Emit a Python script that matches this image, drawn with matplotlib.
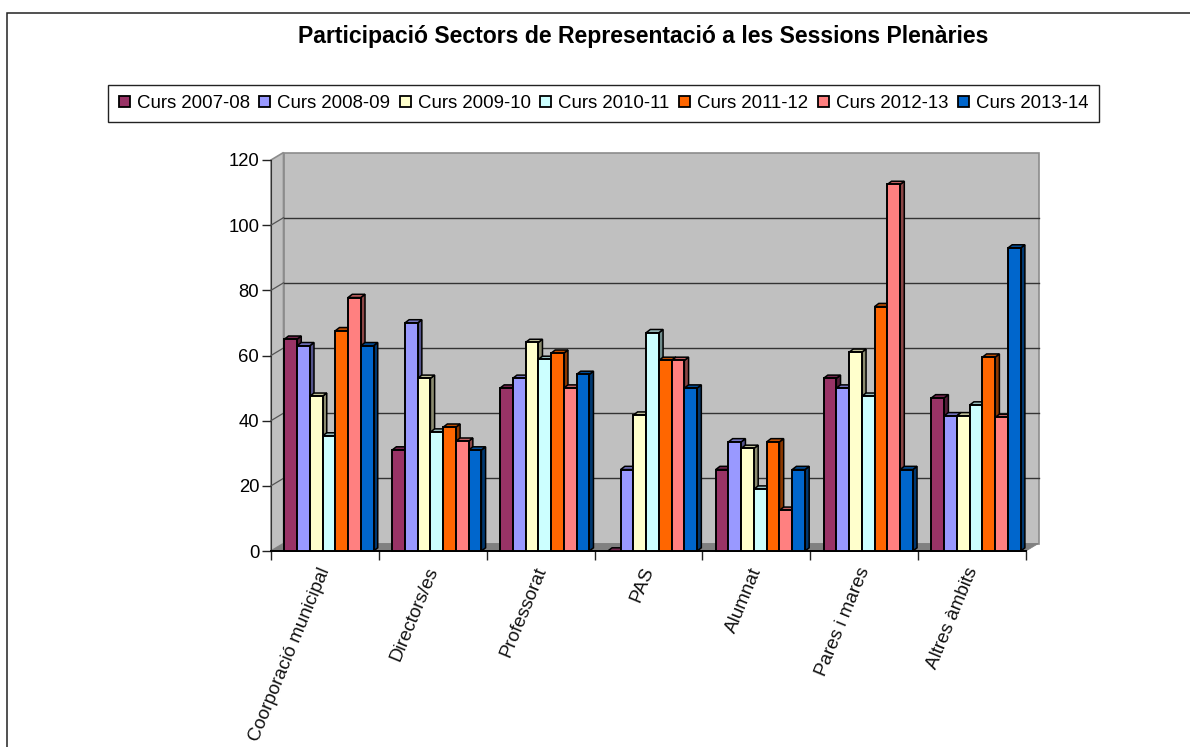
import matplotlib
matplotlib.use("Agg")
import matplotlib.pyplot as plt
from matplotlib.patches import Polygon, Rectangle
import numpy as np

plt.rcParams['font.family'] = ['Liberation Sans', 'DejaVu Sans']

# data
sectors = ["Coorporació municipal", "Directors/es", "Professorat", "PAS",
           "Alumnat", "Pares i mares", "Altres àmbits"]
courses = ["Curs 2007-08", "Curs 2008-09", "Curs 2009-10", "Curs 2010-11",
           "Curs 2011-12", "Curs 2012-13", "Curs 2013-14"]
curs_0708 = [65, 31, 50, 0, 25, 53, 47]
curs_0809 = [63, 70, 53, 25, 33.5, 50, 41.5]
curs_0910 = [47.5, 53, 64, 41.7, 31.5, 61, 41.5]
curs_1011 = [35.3, 36.5, 58.8, 67, 19, 47.5, 44.8]
curs_1112 = [67.6, 38, 60.7, 58.5, 33.5, 75, 59.5]
curs_1213 = [77.8, 33.7, 50, 58.5, 12.5, 112.5, 41]
curs_1314 = [63, 31, 54.2, 50, 25, 25, 93]
series = [curs_0708, curs_0809, curs_0910, curs_1011, curs_1112, curs_1213, curs_1314]
colors = ["#993366", "#9999FF", "#FFFFCC", "#CCFFFF", "#FF6600", "#FF8080", "#0066CC"]

W, H = 1190, 747
fig = plt.figure(figsize=(W / 100, H / 100), dpi=100)
fig.patch.set_facecolor("white")

# outer chart frame, runs off the right and bottom of the image
fig.add_artist(Rectangle((7 / W, -0.02), 1.02, 1.02 - 13 / H,
                         transform=fig.transFigure, fill=False,
                         edgecolor="#222222", linewidth=1.1))

# axes sit on the front plane of the fake 3D box
left, right, top, bottom = 271, 1026, 160, 551
ax = fig.add_axes([left / W, 1 - bottom / H, (right - left) / W, (bottom - top) / H])
ax.set_xlim(0, 7)
ax.set_ylim(0, 120)
ax.patch.set_visible(False)

px_x = 7 / (right - left)
px_y = 120 / (bottom - top)
wall_dx, wall_dy = 12.5 * px_x, 7.5 * px_y    # depth of the box
bar_dx, bar_dy = 4.2 * px_x, 3.2 * px_y       # depth of one bar


def darker(col, f):
    rgb = np.array(matplotlib.colors.to_rgb(col))
    return tuple(rgb * f)


def add_poly(pts, fc, ec="none", lw=0, z=1):
    ax.add_patch(Polygon(pts, closed=True, facecolor=fc, edgecolor=ec,
                         linewidth=lw, zorder=z, clip_on=False, joinstyle="miter"))


# back wall, side wall and floor
add_poly([(wall_dx, wall_dy), (7 + wall_dx, wall_dy), (7 + wall_dx, 120 + wall_dy),
          (wall_dx, 120 + wall_dy)], "#C0C0C0", "#8C8C8C", 1.2, 1)
add_poly([(0, 0), (wall_dx, wall_dy), (wall_dx, 120 + wall_dy), (0, 120)],
         "#C0C0C0", "#8C8C8C", 1.2, 1)
add_poly([(0, 0), (7, 0), (7 + wall_dx, wall_dy), (wall_dx, wall_dy)],
         "#808080", "#808080", 0.5, 1)

# gridlines on the wall plus the slanted bit on the side wall
for v in range(20, 120, 20):
    ax.plot([wall_dx, 7 + wall_dx], [v + wall_dy, v + wall_dy], color="#333333", lw=1.0, zorder=2, clip_on=False)
    ax.plot([0, wall_dx], [v, v + wall_dy], color="#555555", lw=0.9, zorder=2, clip_on=False)

# bars, left to right so a bar hides the side of the one before it
bar_w = 12.75 * px_x
n = len(series)
pad = (1 - n * bar_w) / 2
zo = 3
for c in range(len(sectors)):
    for s in range(n):
        x0 = c + pad + s * bar_w + 4 * px_x
        x1 = x0 + bar_w
        v = series[s][c]
        col = colors[s]
        add_poly([(x1, 0), (x1 + bar_dx, bar_dy), (x1 + bar_dx, v + bar_dy), (x1, v)],
                 darker(col, 0.55), "black", 1.1, zo)
        add_poly([(x0, v), (x1, v), (x1 + bar_dx, v + bar_dy), (x0 + bar_dx, v + bar_dy)],
                 darker(col, 0.75), "black", 1.1, zo)
        if v > 0:
            add_poly([(x0, 0), (x1, 0), (x1, v), (x0, v)], col, "black", 1.4, zo)
        zo += 1

ax.set_xticks(np.arange(0, 8))
ax.set_xticklabels([])
ax.set_yticks(np.arange(0, 121, 20))
ax.tick_params(axis="y", length=6.5, width=1.0, labelsize=13.3, pad=2, color="#222222")
ax.tick_params(axis="x", length=6.5, width=1.0, color="#222222")
for side in ["top", "right"]:
    ax.spines[side].set_visible(False)
ax.spines["left"].set_color("#333333")
ax.spines["bottom"].set_color("black")
ax.spines["bottom"].set_linewidth(1.4)
ax.spines["left"].set_zorder(1)

# rotated category labels hang from under the group centre
for c, name in enumerate(sectors):
    ax.annotate(name, xy=(c + 0.5, 0), xytext=(-5, -10), textcoords="offset points",
                rotation=67.5, ha="right", va="top", rotation_mode="anchor", fontsize=13.6, color="#111111")

fig.text(643.5 / W, 1 - 36 / H, "Participació Sectors de Representació a les Sessions Plenàries",
         ha="center", va="center", fontsize=16.6, fontweight="bold")

handles = [Rectangle((0, 0), 1, 1, facecolor=col, edgecolor="black", linewidth=1.3) for col in colors]
fig.legend(handles, courses, loc="center", bbox_to_anchor=(603.5 / W, 1 - 103.5 / H),
           ncol=7, fontsize=13.4, frameon=True, fancybox=False, edgecolor="#222222",
           framealpha=1, handlelength=0.6, handleheight=0.6, handletextpad=0.38,
           columnspacing=0.5, borderpad=0.55, borderaxespad=0)

fig.savefig("out.png", dpi=100)
